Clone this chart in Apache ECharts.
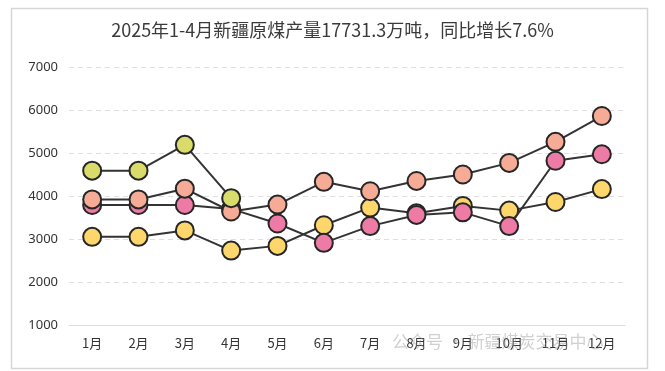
<!DOCTYPE html>
<html>
<head>
<meta charset="utf-8">
<script src="https://cdn.jsdelivr.net/npm/echarts@6/dist/echarts.min.js"></script>
<style>
html,body{margin:0;padding:0;background:#fff;}
#chart{width:665px;height:371px;}
</style>
</head>
<body>
<div id="chart"></div>
<script>
const titleText = '2025年1-4月新疆原煤产量17731.3万吨，同比增长7.6%';
const categories = ['1月','2月','3月','4月','5月','6月','7月','8月','9月','10月','11月','12月'];
const yTicks = [1000, 2000, 3000, 4000, 5000, 6000, 7000];
const series2022 = [3050, 3050, 3200, 2730, 2840, 3320, 3730, 3600, 3770, 3660, 3860, 4160];
const series2023 = [3790, 3790, 3790, 3700, 3360, 2910, 3300, 3560, 3620, 3300, 4820, 4970];
const series2024 = [3920, 3920, 4170, 3640, 3800, 4330, 4110, 4350, 4500, 4770, 5260, 5860];
const series2025 = [4590, 4590, 5190, 3950];
const seriesNames = ['2022年', '2023年', '2024年', '2025年'];
const seriesColors = ['#fdd66c', '#ee7ba6', '#f5ab95', '#d9dc6a'];

const chart = echarts.init(document.getElementById('chart'));
const dataSets = [series2022, series2023, series2024, series2025];
const seriesList = dataSets.map((d, i) => ({
  name: seriesNames[i],
  type: 'line',
  data: d,
  symbol: 'circle',
  symbolSize: 18,
  z: 2 + i,
  lineStyle: { color: '#333', width: 2 },
  itemStyle: { color: seriesColors[i], borderColor: '#262626', borderWidth: 2 },
  emphasis: { disabled: true },
  animation: false
}));

chart.setOption({
  animation: false,
  title: {
    text: titleText,
    left: 'center',
    top: 16,
    textStyle: { fontSize: 18, fontWeight: 'normal', color: '#3a3a3a', fontFamily: 'Noto Sans CJK SC' }
  },
  graphic: [
    { type: 'rect', left: 9, top: 6, shape: { width: 636, height: 360 }, style: { fill: 'none', stroke: '#d6d6d6', lineWidth: 1.5 }, z: 0 },
    { type: 'text', left: 392, top: 333, style: { text: '公众号 · 新疆煤炭交易中心', fontSize: 17, fill: 'rgba(150,150,150,0.45)', fontFamily: 'Noto Sans CJK SC' }, z: 100 }
  ],
  grid: { left: 69, right: 40, top: 67, bottom: 46 },
  xAxis: {
    type: 'category',
    data: categories,
    boundaryGap: true,
    axisLine: { lineStyle: { color: '#dcdcdc', width: 1 } },
    axisTick: { show: false },
    axisLabel: { color: '#333', fontSize: 13, margin: 12, fontFamily: 'Noto Sans CJK SC' }
  },
  yAxis: {
    type: 'value',
    min: yTicks[0],
    max: yTicks[yTicks.length - 1],
    interval: 1000,
    axisLine: { show: false },
    axisTick: { show: false },
    axisLabel: { color: '#333', fontSize: 13, margin: 11, fontFamily: 'Noto Sans', formatter: v => String(v) },
    splitLine: { lineStyle: { color: '#dedede', type: [5, 4], width: 1 } }
  },
  series: seriesList
});
</script>
</body>
</html>
